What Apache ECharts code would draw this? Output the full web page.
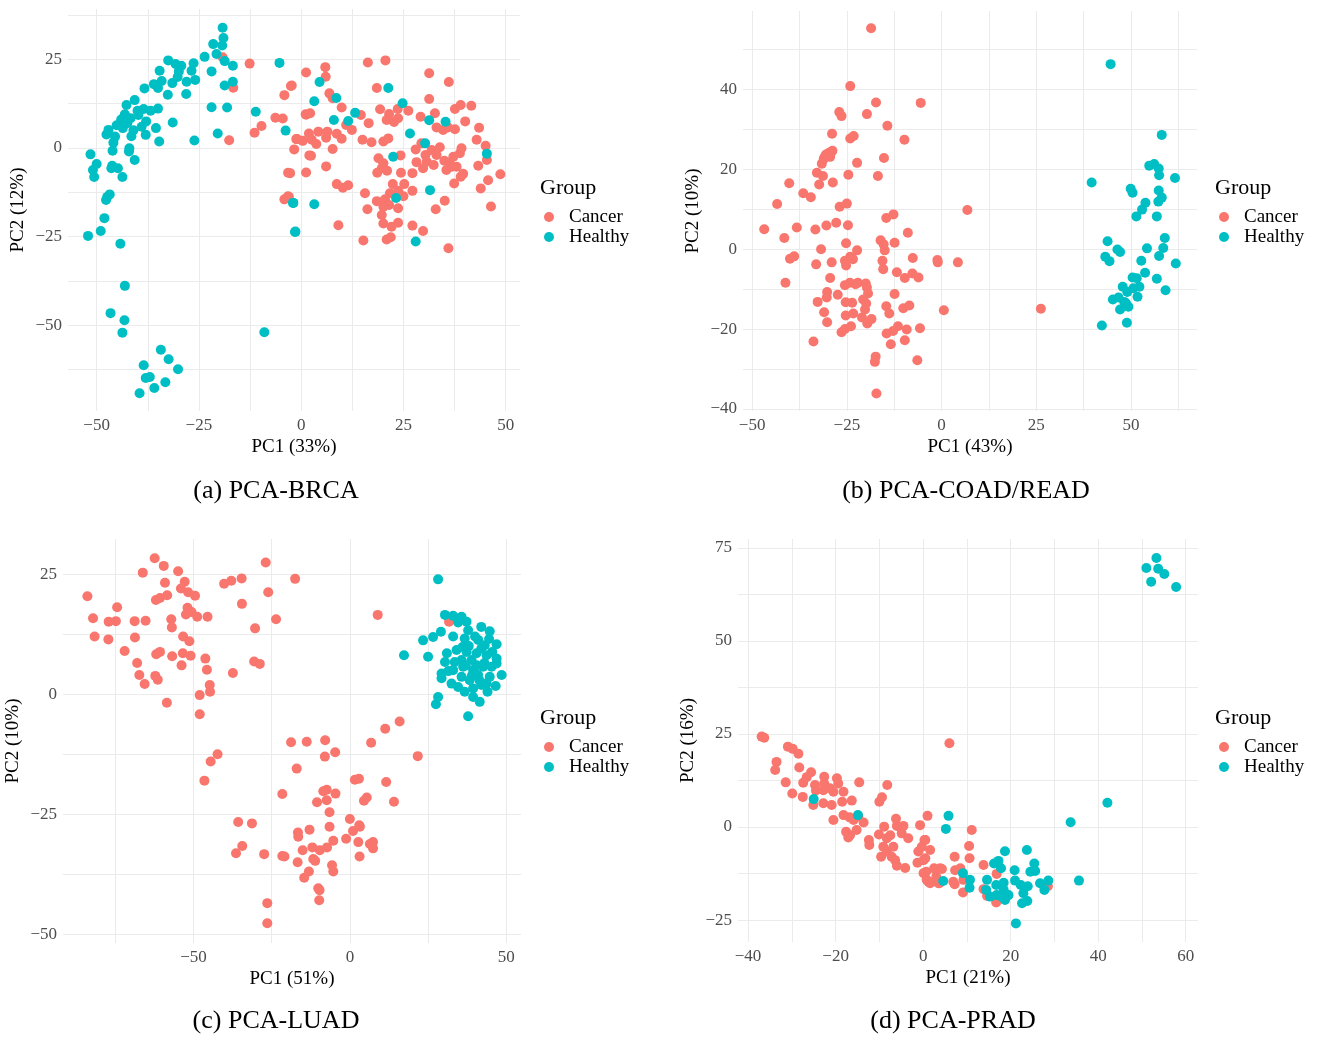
<!DOCTYPE html>
<html><head><meta charset="utf-8">
<script src="https://cdn.jsdelivr.net/npm/echarts@6/dist/echarts.min.js"></script>
<style>html,body{margin:0;padding:0;background:#fff}#c{width:1322px;height:1037px}</style>
</head><body><div id="c"></div>
<script>
// ---------- DATA ----------
const groups = ['Cancer', 'Healthy'];
const captions = ['(a) PCA-BRCA', '(b) PCA-COAD/READ', '(c) PCA-LUAD', '(d) PCA-PRAD'];
const xTitles = ['PC1 (33%)', 'PC1 (43%)', 'PC1 (51%)', 'PC1 (21%)'];
const yTitles = ['PC2 (12%)', 'PC2 (10%)', 'PC2 (10%)', 'PC2 (16%)'];

const xTicksA = [-50, -25, 0, 25, 50];      const xMinorA = [-37.5, -12.5, 12.5, 37.5];
const yTicksA = [-50, -25, 0, 25];          const yMinorA = [-62.5, -37.5, -12.5, 12.5, 37.5];
const xTicksB = [-50, -25, 0, 25, 50];      const xMinorB = [-37.5, -12.5, 12.5, 37.5, 62.5];
const yTicksB = [-40, -20, 0, 20, 40];      const yMinorB = [-30, -10, 10, 30, 50];
const xTicksC = [-50, 0, 50];               const xMinorC = [-75, -25, 25];
const yTicksC = [-50, -25, 0, 25];          const yMinorC = [-37.5, -12.5, 12.5];
const xTicksD = [-40, -20, 0, 20, 40, 60];  const xMinorD = [-30, -10, 10, 30, 50];
const yTicksD = [-25, 0, 25, 50, 75];       const yMinorD = [-12.5, 12.5, 37.5, 62.5];

const brcaCancer = [[-19.2,25.6],[-16.6,17.0],[-17.6,2.2],[-12.6,23.8],[-11.4,4.3],[-9.7,6.2],[-6.3,8.5],[-4.5,8.3],[-2.5,17.5],[-4.1,14.9],[1.2,21.3],[1.2,9.4],[-1.2,2.5],[0.4,2.0],[-1.7,-0.4],[2.0,-2.1],[-3.2,-7.0],[1.2,-6.9],[-3.2,-13.6],[-4.1,-14.5],[-3.0,-13.8],
[16.3,24.1],[20.6,24.7],[5.9,22.8],[6.0,20.1],[31.3,21.1],[36.1,18.6],[18.5,16.9],[6.9,15.4],[7.7,14.0],[31.3,13.8],[9.9,11.4],[1.1,9.5],[2.2,9.8],[-2.3,17.6],[14.6,9.3],[16.5,7.0],[19.3,10.9],[21.5,9.6],[23.6,11.0],[26.2,10.5],[29.2,8.8],[32.7,9.8],[37.6,11.0],[39.0,12.1],[41.6,11.9],[40.1,7.5],[43.5,5.7],[20.9,7.9],[22.7,7.3],[23.7,8.4],[33.1,5.8],[34.7,5.1],[35.9,5.8],[37.6,5.3],[42.9,2.3],[45.1,0.6],[45.4,-3.4],[48.7,-7.4],[45.7,-9.1],[43.9,-11.4],[46.4,-16.5],
[-1.0,2.5],[1.9,4.1],[4.2,4.6],[6.4,4.6],[2.6,2.3],[3.7,1.1],[6.1,2.9],[8.7,4.0],[9.9,2.6],[11.0,6.5],[12.4,5.1],[15.0,2.3],[17.2,1.6],[20.1,1.8],[21.3,2.7],[7.7,-0.3],[2.4,-2.2],[6.1,-5.2],[-2.7,-7.1],[8.7,-10.2],[10.2,-11.2],[11.5,-10.5],[9.1,-21.8],[15.6,-12.8],[16.2,-17.3],[15.2,-26.1],
[18.9,-2.9],[20.1,-4.3],[19.7,-5.7],[21.0,-6.4],[18.6,-7.0],[24.3,-2.1],[24.4,-7.0],[28.0,-0.4],[29.4,1.3],[30.4,-2.0],[31.9,-0.6],[33.9,0.2],[33.1,-2.0],[28.2,-4.0],[29.8,-5.7],[30.7,-3.9],[32.4,-4.8],[35.0,-3.6],[36.3,-4.1],[38.0,-5.3],[37.2,-2.5],[38.8,-1.5],[39.2,-0.1],[36.8,-5.3],[35.5,-6.2],[39.6,-7.3],[39.0,-8.1],[43.3,-5.0],[37.4,-10.0],
[27.2,-7.1],[27.2,-12.1],[25.2,-10.2],[22.4,-10.2],[23.7,-12.1],[21.7,-12.8],[20.5,-14.5],[18.5,-15.0],[20.1,-16.6],[21.5,-16.1],[23.7,-17.0],[25.0,-13.6],[19.7,-18.9],[20.1,-21.3],[22.1,-22.2],[23.7,-21.1],[20.9,-25.8],[21.9,-25.2],[27.2,-21.9],[29.8,-23.4],[32.9,-17.3],[35.1,-14.9],[36.0,-28.3]];

const brcaHealthy = [[-19.2,33.9],[-19.0,31.0],[-21.5,29.3],[-19.3,28.9],[-20.7,26.5],[-18.7,24.5],[-16.7,23.2],[-23.6,25.7],[-26.3,23.9],[-26.8,21.8],[-25.9,19.2],[-28.0,18.7],[-29.3,23.2],[-30.7,23.7],[-29.9,21.6],[-30.2,20.0],[-32.5,24.7],[-34.6,21.8],[-31.5,18.3],[-34.1,18.9],[-36.0,18.0],[-35.0,16.9],[-38.3,16.8],[-32.6,15.0],[-28.1,15.2],
[-40.7,13.5],[-42.7,12.1],[-35.0,11.1],[-36.8,10.5],[-43.1,9.5],[-39.8,9.3],[-41.7,8.4],[-37.9,7.5],[-45.1,6.4],[-47.1,5.1],[-47.6,3.8],[-43.6,5.6],[-41.5,3.3],[-38.0,3.7],[-35.5,5.6],[-31.4,7.2],[-45.5,3.2],[-45.9,1.5],[-34.7,1.8],[-42.0,-0.1],[-46.1,-0.8],[-26.1,2.1],[-42.1,-1.0],[-51.5,-1.8],[-50.0,-4.5],[-40.7,-3.4],[-46.2,-5.0],[-50.9,-6.2],[-46.4,-5.7],[-44.8,-5.7],[-50.6,-8.2],[-43.7,-8.2],[-46.8,-13.1],[-47.4,-13.8],
[-40.0,10.5],[-42.5,7.0],[-39.0,6.0],[-44.0,8.0],[-41.0,5.0],[-38.5,11.0],
[-21.9,21.6],[-18.7,17.6],[-16.7,18.7],[-21.9,11.5],[-18.1,11.4],[-20.4,4.1],[-11.1,10.2],[-5.3,24.0],[-3.8,4.9],
[-47.7,-14.7],[-48.1,-19.8],[-49.0,-23.4],[-52.1,-24.8],[-44.2,-27.0],[-43.1,-38.9],[-46.6,-46.6],[-43.2,-48.6],[-43.7,-52.1],[-34.3,-56.9],[-32.4,-59.6],[-38.5,-61.3],[-30.1,-62.4],[-38.0,-64.9],[-37.0,-64.6],[-33.2,-66.1],[-35.9,-67.7],[-39.5,-69.2],[-9.0,-52.0],[-1.9,-15.5],[-1.4,-23.6],
[4.5,18.6],[21.3,16.9],[8.6,14.1],[3.2,13.2],[13.2,9.9],[8.0,7.9],[11.5,7.6],[24.8,12.6],[31.3,7.8],[35.3,7.4],[26.6,4.1],[30.3,1.3],[45.4,-1.6],[22.5,-2.5],[31.5,-11.9],[23.2,-14.1],[-2.0,-15.5],[3.2,-15.9],[-1.5,-23.7],[28.0,-26.4]];

const coadCancer = [[-18.6,55.3],[-24.1,40.8],[-17.3,36.7],[-5.5,36.6],[-27.0,34.3],[-26.4,33.3],[-19.7,33.8],[-14.3,30.9],[-28.9,28.9],[-24.1,27.7],[-23.2,28.3],[-9.8,27.4],[-28.8,24.6],[-29.7,24.1],[-30.5,23.7],[-30.8,23.1],[-31.1,22.6],[-29.4,23.1],[-15.2,22.8],[-31.6,21.4],[-22.3,21.6],[-32.9,19.1],[-31.3,18.3],[-24.6,18.6],[-16.8,18.3],[-40.2,16.5],[-32.3,16.2],[-28.7,16.7],[-36.5,14.0],[-34.5,13.0],[-43.4,11.3],[-26.9,10.6],[-25.0,11.4],[6.8,9.8],[-14.6,7.8],[-12.7,8.7],
[-46.8,5.0],[-38.2,5.4],[-33.3,4.9],[-30.4,5.9],[-27.8,6.6],[-24.7,6.0],[-41.5,2.8],[-8.9,4.1],[-16.1,2.2],[-15.3,1.2],[-15.0,-0.3],[-12.4,1.6],[-25.2,1.5],[-31.8,0],[-22.3,-0.3],[-38.9,-1.8],[-40.0,-2.4],[-29.0,-3.3],[-33.1,-3.8],[-25.5,-2.9],[-24.1,-1.9],[-23.4,-2.5],[-25.2,-4.1],[-15.6,-2.9],[-15.4,-5.0],[-7.6,-2.2],[-1.1,-2.7],[-1.0,-3.3],[4.3,-3.3],[-11.8,-5.8],[-29.4,-7.2],[-41.2,-8.4],
[-25.5,-9.0],[-24.2,-8.4],[-22.7,-8.8],[-22.1,-8.4],[-20.0,-8.6],[-19.7,-9.6],[-19.4,-11.1],[-9.7,-7.2],[-7.7,-6.1],[-6.1,-7.1],[-12.4,-11.2],[-30.2,-10.7],[-30.3,-12.1],[-27.4,-11.4],[-32.7,-13.2],[-25.3,-13.3],[-23.6,-13.4],[-20.7,-12.6],[-19.9,-13.6],[-20.2,-15.1],[-14.6,-14.3],[-13.8,-16.1],[-10.1,-14.8],[-8.5,-14.1],[0.6,-15.3],[-31.0,-15.8],
[-25.3,-16.6],[-23.3,-16.1],[-21.0,-17.1],[-19.6,-18.6],[-18.5,-17.5],[-30.2,-18.3],[-26.4,-20.8],[-25.5,-20.0],[-23.9,-19.3],[-14.5,-21.1],[-12.8,-20.5],[-11.5,-19.3],[-9.2,-20.1],[-5.7,-19.8],[-33.8,-23.1],[-13.4,-23.8],[-9.7,-22.8],[-17.4,-26.9],[-17.6,-28.2],[-6.4,-27.8],[-17.2,-36.1],[26.2,-14.9]];

const coadHealthy = [[44.6,46.3],[58.1,28.6],[54.8,20.9],[56.1,21.3],[57.3,20.2],[57.4,18.5],[61.6,17.8],[39.6,16.7],[49.9,15.1],[50.4,14.1],[57.3,14.7],[58.1,12.9],[57.2,11.9],[53.8,11.6],[52.9,9.9],[51.4,8.2],[56.8,8.2],[58.9,2.8],[58.5,0.3],[57.4,-1.7],[43.8,2.0],[46.4,-0.1],[47.1,-0.7],[54.2,0.2],[43.2,-1.9],[44.3,-3.0],[52.7,-2.9],[61.8,-3.6],[53.7,-5.9],[56.8,-7.4],[59.1,-10.3],
[50.4,-7.1],[51.5,-7.3],[52.2,-9.4],[50.6,-9.8],[49.0,-10.7],[47.8,-9.4],[51.7,-11.9],[45.2,-12.6],[46.7,-12.1],[48.2,-13.2],[49.3,-14.4],[47.1,-15.1],[48.7,-13.6],[42.3,-19.1],[48.9,-18.4]];

const luadCancer = [[-62.4,28.3],[-59.5,26.7],[-54.9,25.6],[-66.2,25.3],[-26.9,27.4],[-17.5,24.0],[-34.6,24.1],[-37.9,23.6],[-40.2,23.0],[-59.1,23.2],[-52.8,23.4],[-54.0,22.0],[-51.7,21.2],[-49.5,20.5],[-58.4,20.6],[-60.7,20.0],[-62.0,19.6],[-26.1,21.2],[-83.9,20.4],[-74.4,18.1],[-34.5,18.8],[-51.9,18.0],[-52.4,16.6],[-50.6,17.1],[-48.8,16.1],[-45.5,16.1],[-57.1,15.6],[-56.9,13.9],[-23.6,15.6],[-82.1,15.8],[-77.1,15.1],[-74.8,15.2],[-68.8,15.2],[-65.3,15.3],[-30.3,13.7],[-81.6,12.0],[-77.2,11.4],[-68.7,11.8],[-53.3,12.0],[-51.3,11.0],[-72.0,9.0],[-61.9,8.3],[-60.7,8.8],[-56.8,7.9],[-53.4,8.5],[-50.9,8.0],[-46.2,7.4],[-45.7,5.1],[-68.0,6.5],[-53.8,6.0],[-30.6,6.8],[-28.8,6.3],[-67.3,4.0],[-37.4,4.4],[-62.2,3.8],[-61.4,3.0],[-65.6,2.1],[-44.8,1.9],[-44.7,0.5],[-48.0,-0.2],[-58.5,-1.8],[-48.0,-4.2],[8.9,16.5],[31.7,15.1],
[-42.3,-12.5],[-44.5,-14.0],[-46.5,-18.0],[-18.8,-10.0],[-13.8,-9.9],[-7.9,-9.6],[-8.0,-13.0],[-4.7,-12.1],[-17.0,-15.5],[6.8,-10.1],[11.3,-7.2],[15.9,-5.7],[21.7,-12.9],[1.6,-17.8],[2.9,-17.6],[11.6,-18.3],[-21.6,-20.8],[-8.5,-20.2],[-7.4,-19.9],[-4.6,-20.7],[-10.5,-22.5],[-7.4,-22.1],[5.4,-21.5],[4.5,-22.2],[14.1,-22.4],[-6.5,-24.6],[-35.7,-26.6],[-31.3,-26.9],[-16.6,-28.8],[-16.5,-29.7],[-12.9,-28.2],[-6.5,-27.6],[0,-26.0],[3.0,-27.3],[3.2,-27.6],[1.0,-28.5],[-34.4,-31.6],[-36.4,-33.1],[-27.4,-33.3],[-21.6,-33.7],[-20.9,-33.8],[-15.1,-32.5],[-12.0,-31.9],[-9.6,-32.5],[-7.3,-31.9],[-5.3,-30.5],[-1.2,-30.1],[2.7,-30.8],[6.4,-31.2],[7.4,-30.8],[7.4,-32.1],[3.1,-33.8],[-16.7,-35.0],[-11.7,-34.3],[-11.1,-34.7],[-5.7,-35.6],[-5.3,-36.9],[-13.1,-36.9],[-14.6,-38.2],[-10.1,-40.4],[-9.7,-40.8],[-9.8,-42.9],[-26.4,-43.5],[-26.4,-47.7]];

const luadHealthy = [[28.2,23.9],[30.4,16.5],[33.0,16.3],[35.7,16.1],[37.3,15.1],[34.6,14.9],[29.1,13.0],[26.6,11.9],[23.4,11.2],[17.3,8.1],[25.0,7.8],[44.7,13.1],[46.9,10.4],[41.0,11.3],[37.8,13.3],[36.7,11.6],[43.1,10.2],[34.1,9.2],[37.3,8.8],[40.5,8.5],[43.7,8.1],[46.9,7.4],[38.9,7.1],[35.7,7.1],[30.4,6.7],[33.5,6.7],[33.0,5.0],[36.2,5.7],[39.4,5.0],[42.6,5.7],[45.3,5.7],[46.9,6.4],[29.3,4.3],[29.3,3.3],[32.5,2.2],[35.7,3.6],[38.3,2.9],[41.0,4.0],[44.7,3.6],[48.5,4.0],[34.6,1.5],[36.7,0.5],[39.4,1.2],[42.1,1.9],[43.7,2.2],[46.6,1.7],[39.4,-0.6],[41.5,-1.6],[28.2,-0.6],[27.5,-2.1],[37.8,-4.6],
[40.0,12.0],[42.0,9.5],[38.0,10.0],[44.5,11.5],[40.5,6.0],[43.0,6.5],[36.0,9.8],[41.5,2.8],[44.0,0.5],[31.5,4.8],[33.0,12.0],[45.5,8.8],[39.0,3.8],[37.0,6.0],[42.0,14.0],[31.0,8.5]];

const pradCancer = [[-36.9,24.3],[-36.3,24.0],[-30.9,21.6],[-29.8,21.0],[-28.5,19.7],[-33.5,17.5],[-33.8,15.3],[-28.3,16.0],[-25.6,14.7],[-26.6,13.4],[-27.4,11.9],[-31.4,12.0],[-22.6,13.5],[-22.6,11.7],[-24.7,11.3],[-24.5,9.8],[-22.8,9.9],[-21.3,10.4],[-19.7,13.1],[-19.4,11.7],[-18.2,9.5],[-20.5,9.5],[-14.6,12.0],[-29.9,9.0],[-27.5,8.1],[-25.1,5.9],[-22.8,6.4],[-20.9,5.9],[-18.5,6.8],[-16.3,7.1],[-8.2,11.3],[-9.4,8.0],[-10.0,6.8],[-20.5,1.9],[-18.2,3.2],[-16.8,2.6],[-15.9,1.9],[-14.8,2.8],[-13.6,1.2],[-17.6,-1.3],[-16.7,-2.2],[-17.1,-2.8],[-15.2,-0.8],[-12.4,-3.5],[-12.3,-4.8],[-10.1,-2.0],[-8.9,0.1],[-8.3,-3.0],[-7.5,-2.2],[-9.1,-5.3],[-9.6,-8.0],[-8.3,-6.6],[-6.8,-5.3],[-7.2,-8.0],[-6.4,-8.9],[-6.0,-10.4],[-6.2,2.2],[-5.3,0.1],[-4.5,0.3],[-6.0,0.3],[-4.9,-1.7],[-3.4,-3.0],[-4.1,-11.0],[-0.7,0.5],[1.0,3.0],[0.3,-3.5],[-0.3,-5.3],[-1.1,-6.6],[1.6,-6.2],[-1.3,-9.6],[0.5,-8.4],[0.1,-12.4],[0.8,-14.2],[1.6,-15.1],[2.5,-11.1],[3.9,-11.1],[3.0,-13.4],[3.7,-15.1],[6.0,22.5],
[0.5,-3.5],[0.1,-8.9],[0.7,-12.0],[11.1,-0.8],[10.5,-5.1],[10.6,-8.4],[7.2,-8.0],[2.7,-11.3],[4.3,-11.3],[7.3,-11.6],[8.5,-11.1],[1.2,-14.7],[3.5,-15.1],[6.9,-14.7],[9.2,-14.2],[7.2,-15.4],[9.1,-17.6],[13.8,-10.2],[16.8,-12.6],[13.8,-16.7],[14.6,-18.5],[16.7,-20.3],[28.5,-15.9]];

const pradHealthy = [[5.8,3.0],[5.2,-0.5],[4.6,-14.5],[9.1,-12.4],[10.7,-14.2],[10.6,-16.3],[18.7,-6.5],[23.7,-6.2],[16.2,-9.8],[17.2,-9.1],[17.8,-11.1],[20.9,-11.6],[25.4,-9.8],[24.5,-12.0],[25.6,-11.8],[14.6,-14.2],[14.4,-16.9],[16.7,-15.6],[18.4,-15.0],[18.4,-16.9],[21.0,-14.4],[22.3,-15.6],[23.9,-15.9],[15.3,-18.7],[16.8,-18.3],[18.0,-18.7],[19.5,-18.3],[18.7,-19.6],[22.9,-17.8],[22.6,-20.5],[23.8,-19.9],[26.7,-15.1],[27.7,-16.9],[28.6,-14.4],[21.2,-25.9],[35.6,-14.4],[33.7,1.3],[42.1,6.5],[-25.0,7.5],[-14.9,3.2],
[51.0,69.6],[53.3,72.3],[53.7,69.4],[55.1,68.0],[52.1,65.9],[57.8,64.5]];

// ---------- CHART ----------
const COLORS = {Cancer: '#F8766D', Healthy: '#00BFC4'};
const SERIF = '"Liberation Serif", "DejaVu Serif", serif';
const panels = [
  {grid:{left:68, top:9, width:452, height:402}, x:[-57,53.5], y:[-74.2,39.2], xt:xTicksA, xm:xMinorA, yt:yTicksA, ym:yMinorA, data:[brcaCancer, brcaHealthy], legend:{x:540, y:188}, cap:{x:276, y:491}},
  {grid:{left:743, top:11, width:454, height:400}, x:[-52.4,67.4], y:[-40.5,59.6], xt:xTicksB, xm:xMinorB, yt:yTicksB, ym:yMinorB, data:[coadCancer, coadHealthy], legend:{x:1215, y:188}, cap:{x:966, y:491}},
  {grid:{left:63, top:539, width:458, height:404}, x:[-91.7,54.7], y:[-51.8,32.3], xt:xTicksC, xm:xMinorC, yt:yTicksC, ym:yMinorC, data:[luadCancer, luadHealthy], legend:{x:540, y:718}, cap:{x:276, y:1021}},
  {grid:{left:738, top:539, width:460, height:403}, x:[-42.3,62.8], y:[-30.9,77.4], xt:xTicksD, xm:xMinorD, yt:yTicksD, ym:yMinorD, data:[pradCancer, pradHealthy], legend:{x:1215, y:718}, cap:{x:953, y:1021}}
];
const fmt = v => String(v).replace('-', '\u2212');
const option = {animation:false, grid:[], xAxis:[], yAxis:[], series:[], legend:[], graphic:[]};
panels.forEach((p, i) => {
  option.grid.push(Object.assign({containLabel:false}, p.grid));
  const common = (ticks, minor) => ({
    type:'value', gridIndex:i,
    axisLine:{show:false},
    axisTick:{show:false, customValues: ticks.concat(minor).sort((a,b)=>a-b)},
    splitLine:{show:true, lineStyle:{color:'#ebebeb', width:1}},
    axisLabel:{customValues: ticks, formatter: fmt, color:'#4d4d4d', fontFamily:SERIF, fontSize:17},
    nameTextStyle:{color:'#000', fontFamily:SERIF, fontSize:19},
    nameLocation:'middle'
  });
  const xa = common(p.xt, p.xm);
  Object.assign(xa, {min:p.x[0], max:p.x[1], name:xTitles[i], nameGap:27});
  xa.axisLabel.margin = 6;
  const ya = common(p.yt, p.ym);
  Object.assign(ya, {min:p.y[0], max:p.y[1], name:yTitles[i], nameGap:40});
  ya.axisLabel.margin = 6;
  option.xAxis.push(xa); option.yAxis.push(ya);
  groups.forEach((g, gi) => {
    option.series.push({type:'scatter', name:g, xAxisIndex:i, yAxisIndex:i, data:p.data[gi],
      symbol:'circle', symbolSize:10, itemStyle:{color:COLORS[g], opacity:1}});
  });
  option.legend.push({orient:'vertical', left:p.legend.x - 1, top:p.legend.y + 14, data:groups,
    icon:'circle', itemWidth:30, itemHeight:10, itemGap:0, selectedMode:false,
    textStyle:{fontFamily:SERIF, fontSize:19, lineHeight:20, color:'#000'}});
  option.graphic.push({type:'text', x:p.legend.x, y:p.legend.y, style:{text:'Group', fontFamily:SERIF, fontSize:22, fill:'#000', textAlign:'left', textVerticalAlign:'middle'}});
  option.graphic.push({type:'text', x:p.cap.x, y:p.cap.y, style:{text:captions[i], fontFamily:SERIF, fontSize:26, fill:'#000', textAlign:'center', textVerticalAlign:'middle'}});
});
const chart = echarts.init(document.getElementById('c'), null, {renderer:'canvas'});
chart.setOption(option);
</script></body></html>
